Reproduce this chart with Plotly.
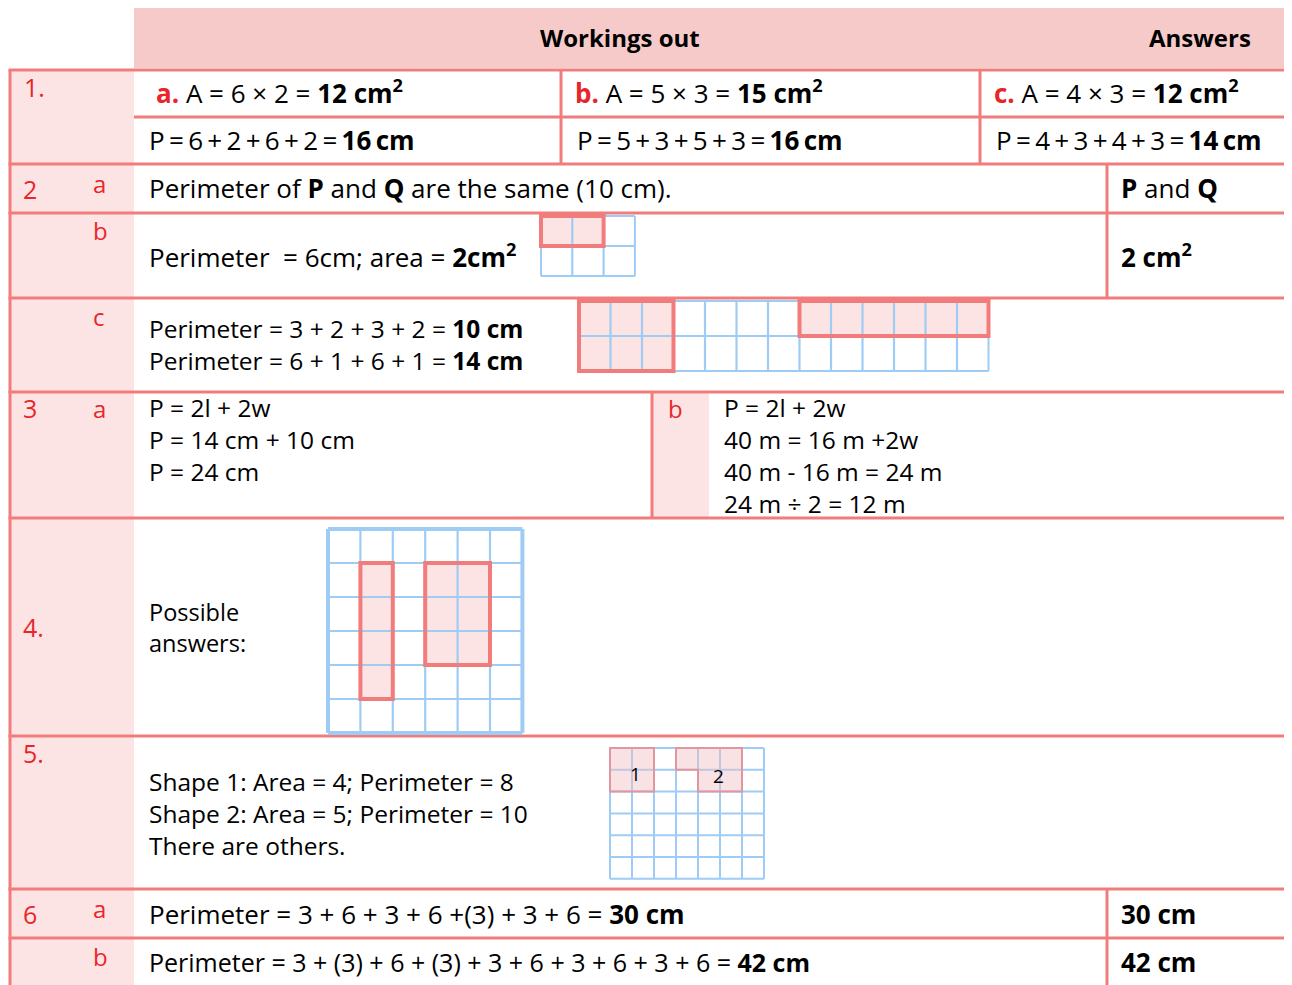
import plotly.graph_objects as go

W, H = 1292, 985
OFF = 8                    # page body margin of the html page
RED = "rgb(241,124,124)"
PINK = "rgb(252,228,228)"
HEAD = "rgb(247,202,202)"
BLUE = "rgb(158,204,245)"
LBL = "rgb(232,38,42)"
FONT = "Open Sans"
FS = 26
MS = 24.5                  # size of multi-line blocks (line pitch 1.3 em)
TS = "\u2009"              # thin space

# ---------------- content ----------------
header_labels = ["Workings out", "Answers"]
question_labels = ["1.", "2", "3", "4.", "5.", "6"]
part_labels_2 = ["a", "b", "c"]
part_labels_3 = ["a", "b"]
part_labels_6 = ["a", "b"]

q1_area = ["A = 6 × 2 = <b>12 cm<sup>2</sup></b>",
           "A = 5 × 3 = <b>15 cm<sup>2</sup></b>",
           "A = 4 × 3 = <b>12 cm<sup>2</sup></b>"]
q1_letters = ["a.", "b.", "c."]
q1_perim = ["P = 6 + 2 + 6 + 2 = <b>16 cm</b>",
            "P = 5 + 3 + 5 + 3 = <b>16 cm</b>",
            "P = 4 + 3 + 4 + 3 = <b>14 cm</b>"]
q2_text = ["Perimeter of <b>P</b> and <b>Q</b> are the same (10 cm).",
           "Perimeter  = 6cm; area = <b>2cm<sup>2</sup></b>"]
q2_answers = ["<b>P</b> and <b>Q</b>", "<b>2 cm<sup>2</sup></b>"]
q2c_lines = ["Perimeter = 3 + 2 + 3 + 2 = <b>10 cm</b>",
             "Perimeter = 6 + 1 + 6 + 1 = <b>14 cm</b>"]
q3a_lines = ["P = 2l + 2w", "P = 14 cm + 10 cm", "P = 24 cm"]
q3b_lines = ["P = 2l + 2w", "40 m = 16 m +2w", "40 m - 16 m = 24 m", "24 m ÷ 2 = 12 m"]
q4_lines = ["Possible", "answers:"]
q5_lines = ["Shape 1: Area = 4; Perimeter = 8",
            "Shape 2: Area = 5; Perimeter = 10",
            "There are others."]
q6_text = ["Perimeter = 3 + 6 + 3 + 6 +(3) + 3 + 6 = <b>30 cm</b>",
           "Perimeter = 3 + (3) + 6 + (3) + 3 + 6 + 3 + 6 + 3 + 6 = <b>42 cm</b>"]
q6_answers = ["<b>30 cm</b>", "<b>42 cm</b>"]

# grid diagrams: columns, rows, highlighted blocks (col, row, ncols, nrows)
grid_2b_cols, grid_2b_rows = 3, 2
grid_2b_blocks = [(0, 0, 2, 1)]
grid_2c_cols, grid_2c_rows = 13, 2
grid_2c_blocks = [(0, 0, 3, 2), (7, 0, 6, 1)]
grid_4_cols, grid_4_rows = 6, 6
grid_4_blocks = [(1, 1, 1, 4), (3, 1, 2, 3)]
grid_5_cols, grid_5_rows = 7, 6
shape_5_1 = [(0, 0), (2, 0), (2, 2), (0, 2)]
shape_5_2 = [(3, 0), (6, 0), (6, 2), (4, 2), (4, 1), (3, 1)]
shape_5_labels = ["1", "2"]

# ---------------- layout geometry ----------------
L, LC = 10, 134           # left border, end of label column
row_y = [70, 164, 213, 298, 392, 518, 736, 889, 938, 985]

shapes = []
annots = []


def rect(x0, y0, x1, y1, fill=None, line=None, lw=0, layer="above"):
    shapes.append(dict(type="rect", x0=x0, y0=y0, x1=x1, y1=y1, xref="x", yref="y",
                       fillcolor=fill if fill else "rgba(0,0,0,0)",
                       line=dict(color=line if line else "rgba(0,0,0,0)", width=lw),
                       layer=layer))


def hline(y, x0, x1, color=RED, w=3):
    shapes.append(dict(type="line", x0=x0, x1=x1, y0=y, y1=y, xref="x", yref="y",
                       line=dict(color=color, width=w)))


def vline(x, y0, y1, color=RED, w=3):
    shapes.append(dict(type="line", x0=x, x1=x, y0=y0, y1=y1, xref="x", yref="y",
                       line=dict(color=color, width=w)))


def text(x, y, s, color="black", size=FS, anchor="left", yanchor="middle"):
    annots.append(dict(x=x, y=y, xref="x", yref="y", text=s, showarrow=False,
                       xanchor=anchor, yanchor=yanchor, align="left", borderpad=0,
                       font=dict(family=FONT, size=size, color=color)))


def block(x, y_first, lines, size=MS):
    # one annotation with line breaks; y_first is the centre of the first line
    pitch = 1.3 * size
    n = len(lines)
    yc = y_first + pitch * (n - 1) / 2.0
    text(x, yc, "<br>".join(lines), size=size)


def grid(x0, y0, cols, rows, cw, ch, blocks=(), outer=2, bw=2.2):
    for (c, r, nc, nr) in blocks:
        rect(x0 + c * cw, y0 + r * ch, x0 + (c + nc) * cw, y0 + (r + nr) * ch, fill=PINK)
    for i in range(cols + 1):
        vline(x0 + i * cw, y0, y0 + rows * ch, BLUE, outer if i in (0, cols) else bw)
    for j in range(rows + 1):
        hline(y0 + j * ch, x0, x0 + cols * cw, BLUE, outer if j in (0, rows) else bw)
    for (c, r, nc, nr) in blocks:
        rect(x0 + c * cw, y0 + r * ch, x0 + (c + nc) * cw, y0 + (r + nr) * ch,
             line=RED, lw=4)


# backgrounds
rect(LC, 8, W + 20, 68, fill=HEAD)
rect(L, row_y[0], LC, H + 20, fill=PINK)
rect(652, row_y[4], 709, row_y[5], fill=PINK)

# table lines
hline(row_y[0], L - 1.5, W + 20)
hline(117, LC, W + 20)
for y in row_y[1:-1]:
    hline(y, L - 1.5, W + 20)
vline(L, row_y[0], H + 20)
vline(561, row_y[0], row_y[1])
vline(980, row_y[0], row_y[1])
vline(1107, row_y[1], row_y[3])
vline(1107, row_y[7], H + 20)
vline(652, row_y[4], row_y[5])

# header
text(620, 37, "<b>" + header_labels[0] + "</b>", size=24, anchor="center")
text(1200, 37, "<b>" + header_labels[1] + "</b>", size=24, anchor="center")

# question numbers
q_pos = [(23, 87), (22, 189), (22, 408), (22, 627), (22, 753), (22, 914)]
for lab, (x, y) in zip(question_labels, q_pos):
    text(x, y, lab, LBL, 25)

# Q1
for i, (xa, xp) in enumerate([(155, 148), (574, 576), (993, 995)]):
    text(xa, 92, "<span style='color:%s'><b>%s</b></span> %s" % (LBL, q1_letters[i], q1_area[i]))
    text(xp, 140, q1_perim[i].replace(" ", TS), size=26)

# Q2
for lab, y in zip(part_labels_2, [183, 230, 316]):
    text(92, y, lab, LBL, 24)
text(148, 188, q2_text[0])
text(148, 256, q2_text[1])
text(1120, 188, q2_answers[0])
text(1120, 256, q2_answers[1])
block(148, 329, q2c_lines)
grid(541, 216, grid_2b_cols, grid_2b_rows, 31.3, 30, grid_2b_blocks)
grid(579, 301, grid_2c_cols, grid_2c_rows, 31.5, 35, grid_2c_blocks)

# Q3
text(92, 408, part_labels_3[0], LBL, 24)
text(667, 408, part_labels_3[1], LBL, 24)
block(148, 408, q3a_lines)
block(723, 408, q3b_lines)

# Q4
block(148, 612, q4_lines, size=23.5)
grid(328, 529, grid_4_cols, grid_4_rows, 32.4, 34, grid_4_blocks, outer=4)

# Q5
block(148, 782, q5_lines)
g5x, g5y, g5c = 610, 748, 22
grid(g5x, g5y, grid_5_cols, grid_5_rows, g5c, 21.8, (), outer=2, bw=2)
for poly in (shape_5_1, shape_5_2):
    path = "M " + " L ".join("%.1f,%.1f" % (g5x + c * g5c, g5y + r * 21.8) for c, r in poly) + " Z"
    shapes.append(dict(type="path", path=path, xref="x", yref="y",
                       fillcolor="rgba(242,190,196,0.45)",
                       line=dict(color="rgb(226,150,160)", width=2)))
text(635, 774, shape_5_labels[0], size=19, anchor="center")
text(718, 776, shape_5_labels[1], size=19, anchor="center")

# Q6
text(92, 908, part_labels_6[0], LBL, 24)
text(92, 956, part_labels_6[1], LBL, 24)
text(148, 914, q6_text[0])
text(148, 962, q6_text[1], size=25)
text(1120, 914, q6_answers[0])
text(1120, 962, q6_answers[1])

fig = go.Figure(go.Scatter(x=[OFF, W], y=[OFF, H], mode="markers",
                           marker=dict(opacity=0), hoverinfo="skip", showlegend=False))
fig.update_layout(width=W, height=H, margin=dict(l=0, r=0, t=0, b=0),
                  paper_bgcolor="white", plot_bgcolor="white",
                  shapes=shapes, annotations=annots, showlegend=False)
fig.update_xaxes(range=[OFF, W + OFF], visible=False, fixedrange=True)
fig.update_yaxes(range=[H + OFF, OFF], visible=False, fixedrange=True)
fig.write_html("out.html", config={"displayModeBar": False})
